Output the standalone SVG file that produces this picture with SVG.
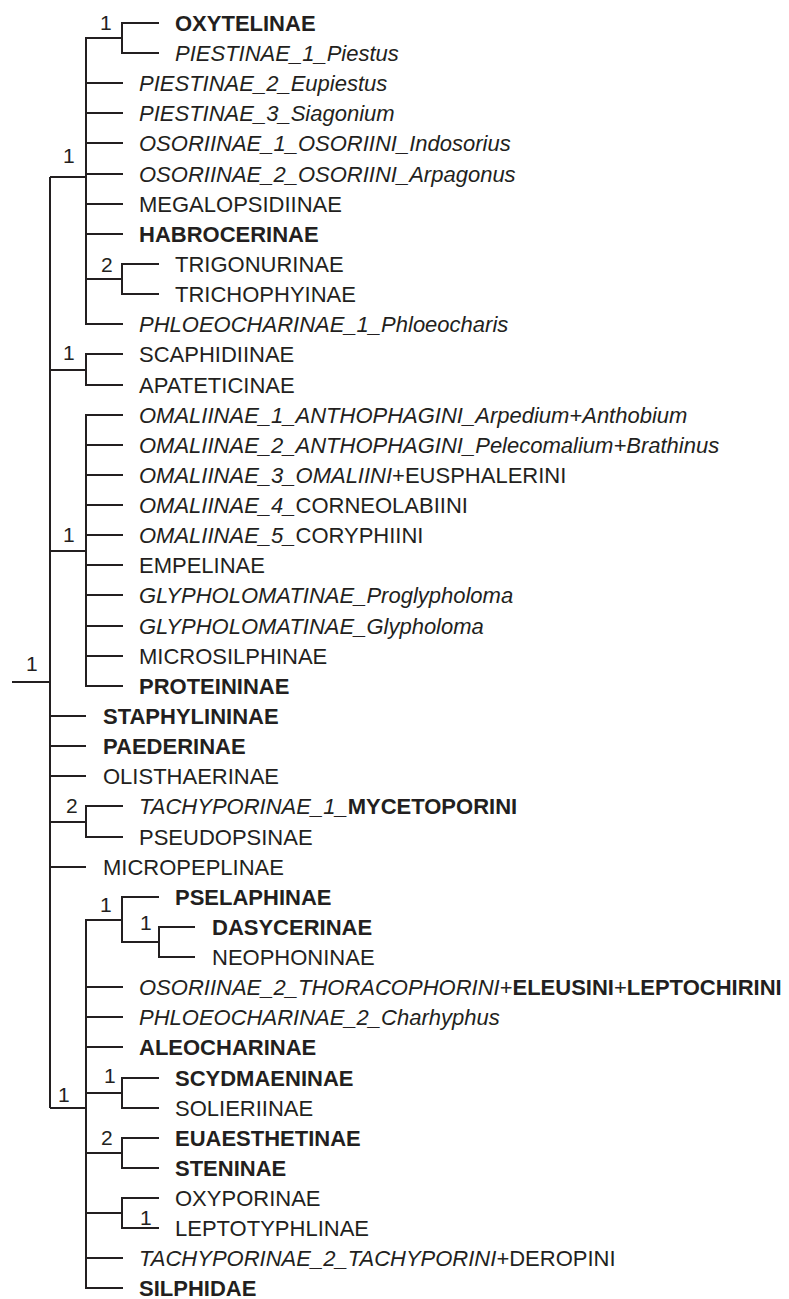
<svg xmlns="http://www.w3.org/2000/svg" width="789" height="1299" viewBox="0 0 789 1299">
<style>
text{font-family:"Liberation Sans",Arial,sans-serif;font-size:22px;fill:#231f20}
.i{font-style:italic}
.b{font-weight:bold}
.s{font-size:21px}
.c{fill:none;stroke:#231f20;stroke-width:2}
</style>
<rect width="789" height="1299" fill="#fff"/>
<g id="connectors" class="c">
<path d="M12 682H50M50 177V1108"/>
<path d="M50 177H86M123 324H86V38H122M159 23H122V53H159M86 83H123M86 113H123M86 143H123M86 174H123M86 204H123M86 234H123M86 279H122M159 264H122V294H159"/>
<path d="M50 370H86M123 354H86V385H123"/>
<path d="M50 551H86M123 415H86V686H123M86 445H123M86 475H123M86 505H123M86 535H123M86 565H123M86 595H123M86 626H123M86 656H123"/>
<path d="M50 716H86M50 746H86M50 776H86M50 867H86"/>
<path d="M50 822H86M123 806H86V837H123"/>
<path d="M50 1108H86M123 1288H86V920H122M159 897H122V942H159M195 927H159V957H195M86 987H123M86 1017H123M86 1047H123M86 1093H122M159 1078H122V1108H159M86 1153H122M159 1138H122V1168H159M86 1213H122M159 1198H122V1228H159M86 1258H123"/>
</g>
<g id="support">
<text class="s" x="26" y="671">1</text>
<text class="s" x="63" y="163">1</text>
<text class="s" x="100" y="30">1</text>
<text class="s" x="101" y="272">2</text>
<text class="s" x="63" y="360">1</text>
<text class="s" x="63" y="542">1</text>
<text class="s" x="66" y="813">2</text>
<text class="s" x="58" y="1102">1</text>
<text class="s" x="100" y="912">1</text>
<text class="s" x="140" y="930">1</text>
<text class="s" x="104" y="1083">1</text>
<text class="s" x="101" y="1145">2</text>
<text class="s" x="140" y="1225">1</text>
</g>
<g id="n0"><text class="b" x="175" y="31">OXYTELINAE</text></g>
<g id="n1"><text class="i" x="175" y="61">PIESTINAE_1_Piestus</text></g>
<g id="n2"><text class="i" x="139" y="91">PIESTINAE_2_Eupiestus</text></g>
<g id="n3"><text class="i" x="139" y="121">PIESTINAE_3_Siagonium</text></g>
<g id="n4"><text class="i" x="139" y="151">OSORIINAE_1_OSORIINI_Indosorius</text></g>
<g id="n5"><text class="i" x="139" y="182">OSORIINAE_2_OSORIINI_Arpagonus</text></g>
<g id="n6"><text x="139" y="212">MEGALOPSIDIINAE</text></g>
<g id="n7"><text class="b" x="139" y="242">HABROCERINAE</text></g>
<g id="n8"><text x="175" y="272">TRIGONURINAE</text></g>
<g id="n9"><text x="175" y="302">TRICHOPHYINAE</text></g>
<g id="n10"><text class="i" x="139" y="332">PHLOEOCHARINAE_1_Phloeocharis</text></g>
<g id="n11"><text x="139" y="362">SCAPHIDIINAE</text></g>
<g id="n12"><text x="139" y="393">APATETICINAE</text></g>
<g id="n13"><text class="i" x="139" y="423">OMALIINAE_1_ANTHOPHAGINI_Arpedium+Anthobium</text></g>
<g id="n14"><text class="i" x="139" y="453">OMALIINAE_2_ANTHOPHAGINI_Pelecomalium+Brathinus</text></g>
<g id="n15"><text x="139" y="483"><tspan class="i">OMALIINAE_3_OMALIINI</tspan>+EUSPHALERINI</text></g>
<g id="n16"><text x="139" y="513"><tspan class="i">OMALIINAE_4_</tspan>CORNEOLABIINI</text></g>
<g id="n17"><text x="139" y="543"><tspan class="i">OMALIINAE_5_</tspan>CORYPHIINI</text></g>
<g id="n18"><text x="139" y="573">EMPELINAE</text></g>
<g id="n19"><text class="i" x="139" y="603">GLYPHOLOMATINAE_Proglypholoma</text></g>
<g id="n20"><text class="i" x="139" y="634">GLYPHOLOMATINAE_Glypholoma</text></g>
<g id="n21"><text x="139" y="664">MICROSILPHINAE</text></g>
<g id="n22"><text class="b" x="139" y="694">PROTEININAE</text></g>
<g id="n23"><text class="b" x="103" y="724">STAPHYLININAE</text></g>
<g id="n24"><text class="b" x="103" y="754">PAEDERINAE</text></g>
<g id="n25"><text x="103" y="784">OLISTHAERINAE</text></g>
<g id="n26"><text x="139" y="814"><tspan class="i">TACHYPORINAE_1_</tspan><tspan class="b">MYCETOPORINI</tspan></text></g>
<g id="n27"><text x="139" y="845">PSEUDOPSINAE</text></g>
<g id="n28"><text x="103" y="875">MICROPEPLINAE</text></g>
<g id="n29"><text class="b" x="175" y="905">PSELAPHINAE</text></g>
<g id="n30"><text class="b" x="212" y="935">DASYCERINAE</text></g>
<g id="n31"><text x="212" y="965">NEOPHONINAE</text></g>
<g id="n32"><text x="139" y="995"><tspan class="i">OSORIINAE_2_THORACOPHORINI</tspan>+<tspan class="b">ELEUSINI</tspan>+<tspan class="b">LEPTOCHIRINI</tspan></text></g>
<g id="n33"><text class="i" x="139" y="1025">PHLOEOCHARINAE_2_Charhyphus</text></g>
<g id="n34"><text class="b" x="139" y="1055">ALEOCHARINAE</text></g>
<g id="n35"><text class="b" x="175" y="1086">SCYDMAENINAE</text></g>
<g id="n36"><text x="175" y="1116">SOLIERIINAE</text></g>
<g id="n37"><text class="b" x="175" y="1146">EUAESTHETINAE</text></g>
<g id="n38"><text class="b" x="175" y="1176">STENINAE</text></g>
<g id="n39"><text x="175" y="1206">OXYPORINAE</text></g>
<g id="n40"><text x="175" y="1236">LEPTOTYPHLINAE</text></g>
<g id="n41"><text x="139" y="1266"><tspan class="i">TACHYPORINAE_2_TACHYPORINI</tspan>+DEROPINI</text></g>
<g id="n42"><text class="b" x="139" y="1296">SILPHIDAE</text></g>
</svg>
